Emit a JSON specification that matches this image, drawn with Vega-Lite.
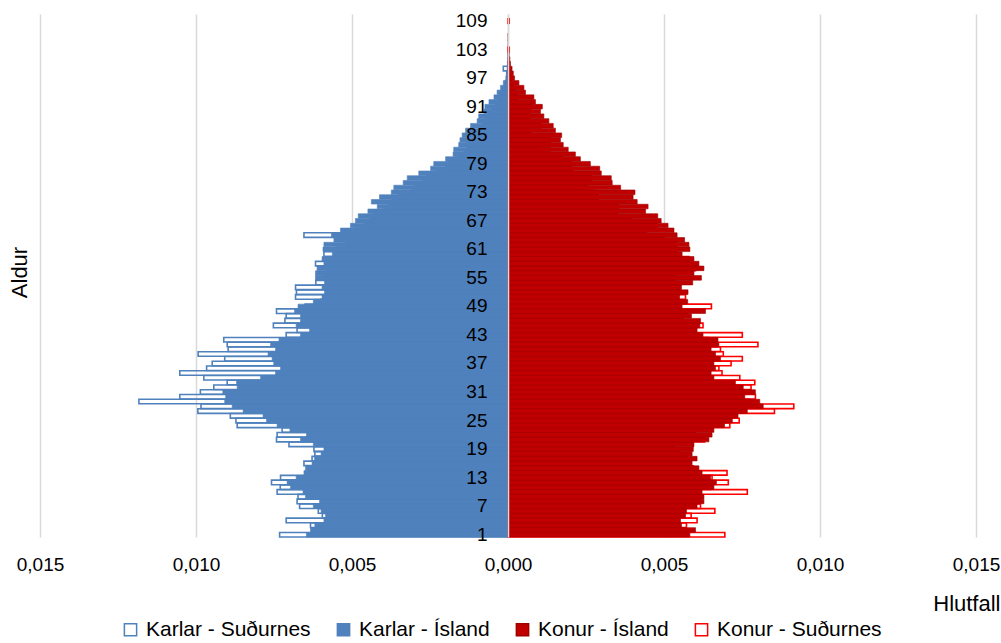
{
  "$schema": "https://vega.github.io/schema/vega-lite/v6.json",
  "width": 936,
  "height": 523,
  "autosize": {"type": "none"},
  "padding": {"left": 40, "top": 14, "right": 25, "bottom": 106},
  "background": "white",
  "config": {"font": "Liberation Sans", "view": {"stroke": null}},
  "data": {"values": [
    {"age":1,"mi":-0.00646,"ms":-0.00732,"fi":0.00583,"fs":0.00695},
    {"age":2,"mi":-0.00633,"ms":-0.0061,"fi":0.00601,"fs":0.00553},
    {"age":3,"mi":-0.00619,"ms":-0.00633,"fi":0.00556,"fs":0.00572},
    {"age":4,"mi":-0.0059,"ms":-0.00711,"fi":0.00553,"fs":0.00606},
    {"age":5,"mi":-0.00585,"ms":-0.00595,"fi":0.00569,"fs":0.00587},
    {"age":6,"mi":-0.00599,"ms":-0.00608,"fi":0.00572,"fs":0.00663},
    {"age":7,"mi":-0.00624,"ms":-0.00668,"fi":0.00606,"fs":0.00617},
    {"age":8,"mi":-0.00604,"ms":-0.00676,"fi":0.00628,"fs":0.00617},
    {"age":9,"mi":-0.00649,"ms":-0.00673,"fi":0.00628,"fs":0.00598},
    {"age":10,"mi":-0.00657,"ms":-0.0074,"fi":0.00622,"fs":0.00767},
    {"age":11,"mi":-0.00697,"ms":-0.0073,"fi":0.0066,"fs":0.00649},
    {"age":12,"mi":-0.00708,"ms":-0.00758,"fi":0.00668,"fs":0.00706},
    {"age":13,"mi":-0.00679,"ms":-0.00729,"fi":0.00649,"fs":0.00654},
    {"age":14,"mi":-0.00654,"ms":-0.0064,"fi":0.00622,"fs":0.00702},
    {"age":15,"mi":-0.00649,"ms":-0.0063,"fi":0.00612,"fs":0.00594},
    {"age":16,"mi":-0.00628,"ms":-0.00654,"fi":0.0059,"fs":0.00587},
    {"age":17,"mi":-0.0062,"ms":-0.00628,"fi":0.00606,"fs":0.00574},
    {"age":18,"mi":-0.00599,"ms":-0.00619,"fi":0.0059,"fs":0.0055},
    {"age":19,"mi":-0.0059,"ms":-0.00622,"fi":0.00594,"fs":0.00532},
    {"age":20,"mi":-0.00624,"ms":-0.00702,"fi":0.00596,"fs":0.00526},
    {"age":21,"mi":-0.00665,"ms":-0.00742,"fi":0.00644,"fs":0.0063},
    {"age":22,"mi":-0.00646,"ms":-0.0074,"fi":0.00654,"fs":0.00601},
    {"age":23,"mi":-0.00699,"ms":-0.00724,"fi":0.0066,"fs":0.00587},
    {"age":24,"mi":-0.0074,"ms":-0.00868,"fi":0.00694,"fs":0.00711},
    {"age":25,"mi":-0.00774,"ms":-0.00872,"fi":0.00719,"fs":0.00741},
    {"age":26,"mi":-0.00785,"ms":-0.0089,"fi":0.00737,"fs":0.00735},
    {"age":27,"mi":-0.00849,"ms":-0.00994,"fi":0.00767,"fs":0.00854},
    {"age":28,"mi":-0.00884,"ms":-0.00984,"fi":0.00818,"fs":0.00916},
    {"age":29,"mi":-0.00908,"ms":-0.01183,"fi":0.00807,"fs":0.00775},
    {"age":30,"mi":-0.00905,"ms":-0.01052,"fi":0.00759,"fs":0.00793},
    {"age":31,"mi":-0.00914,"ms":-0.00986,"fi":0.00793,"fs":0.00692},
    {"age":32,"mi":-0.00868,"ms":-0.00943,"fi":0.00754,"fs":0.00779},
    {"age":33,"mi":-0.0087,"ms":-0.009,"fi":0.00729,"fs":0.00791},
    {"age":34,"mi":-0.00793,"ms":-0.00975,"fi":0.0066,"fs":0.00743},
    {"age":35,"mi":-0.00745,"ms":-0.01052,"fi":0.00651,"fs":0.00686},
    {"age":36,"mi":-0.00729,"ms":-0.00966,"fi":0.00665,"fs":0.00676},
    {"age":37,"mi":-0.00751,"ms":-0.00948,"fi":0.0066,"fs":0.00715},
    {"age":38,"mi":-0.00756,"ms":-0.00908,"fi":0.00681,"fs":0.00751},
    {"age":39,"mi":-0.00769,"ms":-0.00993,"fi":0.00665,"fs":0.0069},
    {"age":40,"mi":-0.00745,"ms":-0.00897,"fi":0.00651,"fs":0.00681},
    {"age":41,"mi":-0.00761,"ms":-0.009,"fi":0.00676,"fs":0.00801},
    {"age":42,"mi":-0.00734,"ms":-0.00911,"fi":0.00673,"fs":0.00644},
    {"age":43,"mi":-0.00665,"ms":-0.00711,"fi":0.00625,"fs":0.00751},
    {"age":44,"mi":-0.00636,"ms":-0.00676,"fi":0.00606,"fs":0.006},
    {"age":45,"mi":-0.00679,"ms":-0.00752,"fi":0.00615,"fs":0.00625},
    {"age":46,"mi":-0.00665,"ms":-0.00715,"fi":0.00617,"fs":0.0051},
    {"age":47,"mi":-0.00665,"ms":-0.00711,"fi":0.00588,"fs":0.00561},
    {"age":48,"mi":-0.00684,"ms":-0.00742,"fi":0.00633,"fs":0.00574},
    {"age":49,"mi":-0.00673,"ms":-0.0065,"fi":0.00558,"fs":0.00652},
    {"age":50,"mi":-0.00624,"ms":-0.006,"fi":0.00576,"fs":0.00532},
    {"age":51,"mi":-0.00596,"ms":-0.00681,"fi":0.0055,"fs":0.00569},
    {"age":52,"mi":-0.00588,"ms":-0.00678,"fi":0.00577,"fs":0.0055},
    {"age":53,"mi":-0.00596,"ms":-0.00681,"fi":0.00556,"fs":0.00516},
    {"age":54,"mi":-0.00588,"ms":-0.00616,"fi":0.00592,"fs":0.00532},
    {"age":55,"mi":-0.00617,"ms":-0.0059,"fi":0.0062,"fs":0.00535},
    {"age":56,"mi":-0.00617,"ms":-0.0058,"fi":0.00596,"fs":0.00529},
    {"age":57,"mi":-0.00612,"ms":-0.0057,"fi":0.00628,"fs":0.00601},
    {"age":58,"mi":-0.0059,"ms":-0.00617,"fi":0.00612,"fs":0.00553},
    {"age":59,"mi":-0.00596,"ms":-0.0056,"fi":0.00596,"fs":0.0058},
    {"age":60,"mi":-0.00563,"ms":-0.0059,"fi":0.00558,"fs":0.00492},
    {"age":61,"mi":-0.00593,"ms":-0.0055,"fi":0.00583,"fs":0.00542},
    {"age":62,"mi":-0.0059,"ms":-0.0052,"fi":0.0058,"fs":0.0054},
    {"age":63,"mi":-0.00558,"ms":-0.0052,"fi":0.00566,"fs":0.005},
    {"age":64,"mi":-0.00566,"ms":-0.00654,"fi":0.00542,"fs":0.00444},
    {"age":65,"mi":-0.00537,"ms":-0.0049,"fi":0.00532,"fs":0.00433},
    {"age":66,"mi":-0.00505,"ms":-0.0046,"fi":0.00513,"fs":0.00478},
    {"age":67,"mi":-0.00489,"ms":-0.0044,"fi":0.00491,"fs":0.00396},
    {"age":68,"mi":-0.0048,"ms":-0.0043,"fi":0.0048,"fs":0.0035},
    {"age":69,"mi":-0.00449,"ms":-0.004,"fi":0.00441,"fs":0.0035},
    {"age":70,"mi":-0.00419,"ms":-0.0038,"fi":0.00449,"fs":0.00353},
    {"age":71,"mi":-0.00438,"ms":-0.0037,"fi":0.00414,"fs":0.00286},
    {"age":72,"mi":-0.00412,"ms":-0.0035,"fi":0.00401,"fs":0.00288},
    {"age":73,"mi":-0.00374,"ms":-0.0031,"fi":0.00407,"fs":0.0028},
    {"age":74,"mi":-0.00366,"ms":-0.003,"fi":0.00361,"fs":0.0025},
    {"age":75,"mi":-0.00336,"ms":-0.0027,"fi":0.00334,"fs":0.00256},
    {"age":76,"mi":-0.00323,"ms":-0.0026,"fi":0.00331,"fs":0.00267},
    {"age":77,"mi":-0.00286,"ms":-0.0023,"fi":0.00299,"fs":0.00209},
    {"age":78,"mi":-0.00248,"ms":-0.002,"fi":0.00294,"fs":0.00203},
    {"age":79,"mi":-0.00238,"ms":-0.0019,"fi":0.00264,"fs":0.00203},
    {"age":80,"mi":-0.002,"ms":-0.0016,"fi":0.00232,"fs":0.00172},
    {"age":81,"mi":-0.00176,"ms":-0.0014,"fi":0.00216,"fs":0.00136},
    {"age":82,"mi":-0.00174,"ms":-0.0013,"fi":0.00193,"fs":0.00102},
    {"age":83,"mi":-0.00158,"ms":-0.0013,"fi":0.00177,"fs":0.00136},
    {"age":84,"mi":-0.00154,"ms":-0.0011,"fi":0.00168,"fs":0.00136},
    {"age":85,"mi":-0.00147,"ms":-0.001,"fi":0.00172,"fs":0.00072},
    {"age":86,"mi":-0.00136,"ms":-0.0009,"fi":0.00152,"fs":0.00067},
    {"age":87,"mi":-0.0012,"ms":-0.0008,"fi":0.00145,"fs":0.00106},
    {"age":88,"mi":-0.00099,"ms":-0.0007,"fi":0.00131,"fs":0.00056},
    {"age":89,"mi":-0.00094,"ms":-0.0006,"fi":0.00115,"fs":0.00069},
    {"age":90,"mi":-0.00077,"ms":-0.0005,"fi":0.00104,"fs":0.00067},
    {"age":91,"mi":-0.00074,"ms":-0.0004,"fi":0.0011,"fs":0.00074},
    {"age":92,"mi":-0.00061,"ms":-0.0003,"fi":0.00088,"fs":0.00024},
    {"age":93,"mi":-0.00045,"ms":-0.00025,"fi":0.00083,"fs":0.00029},
    {"age":94,"mi":-0.00035,"ms":-0.0002,"fi":0.00056,"fs":0.0002},
    {"age":95,"mi":-0.00024,"ms":-0.0001,"fi":0.00051,"fs":0.00017},
    {"age":96,"mi":-0.00015,"ms":-0.00008,"fi":0.00035,"fs":0.0001},
    {"age":97,"mi":-0.00007,"ms":-0.00004,"fi":0.00021,"fs":0.00008},
    {"age":98,"mi":-0.00005,"ms":-0.00004,"fi":0.00017,"fs":0.00005},
    {"age":99,"mi":-0.00003,"ms":-0.00015,"fi":0.00013,"fs":0.00004},
    {"age":100,"mi":-0.00002,"ms":0,"fi":0.00008,"fs":0.00004},
    {"age":101,"mi":-0.00001,"ms":0,"fi":0.00006,"fs":0},
    {"age":102,"mi":-0.000005,"ms":0,"fi":0.00004,"fs":0},
    {"age":103,"mi":0,"ms":0,"fi":0.00002,"fs":0.00004},
    {"age":104,"mi":0,"ms":0,"fi":0.000015,"fs":0},
    {"age":105,"mi":0,"ms":0,"fi":0.00001,"fs":0},
    {"age":106,"mi":0,"ms":0,"fi":0.000005,"fs":0},
    {"age":107,"mi":0,"ms":0,"fi":0,"fs":0},
    {"age":108,"mi":0,"ms":0,"fi":0,"fs":0},
    {"age":109,"mi":0,"ms":0,"fi":0,"fs":0.00004},
    {"age":110,"mi":0,"ms":0,"fi":0,"fs":0}
  ]},
  "transform": [
    {"fold": ["ms", "mi", "fi", "fs"], "as": ["grp", "val"]},
    {"filter": "datum.val != 0"}
  ],
  "encoding": {
    "y": {
      "field": "age",
      "type": "ordinal",
      "scale": {
        "domain": [110,109,108,107,106,105,104,103,102,101,100,99,98,97,96,95,94,93,92,91,90,89,88,87,86,85,84,83,82,81,80,79,78,77,76,75,74,73,72,71,70,69,68,67,66,65,64,63,62,61,60,59,58,57,56,55,54,53,52,51,50,49,48,47,46,45,44,43,42,41,40,39,38,37,36,35,34,33,32,31,30,29,28,27,26,25,24,23,22,21,20,19,18,17,16,15,14,13,12,11,10,9,8,7,6,5,4,3,2,1],
        "paddingInner": 0.04,
        "paddingOuter": 0
      },
      "axis": {
        "orient": "left",
        "offset": -468,
        "values": [1,7,13,19,25,31,37,43,49,55,61,67,73,79,85,91,97,103,109],
        "ticks": false,
        "domain": true,
        "domainColor": "#D9D9D9",
        "domainWidth": 1.5,
        "labelPadding": 21,
        "labelFontSize": 19,
        "labelColor": "#000000",
        "labelFont": "Liberation Sans",
        "title": "Aldur",
        "titleFont": "Liberation Sans",
        "titleFontSize": 22,
        "titleFontWeight": "normal",
        "titleColor": "#000000",
        "titleX": -489,
        "titleY": 258,
        "titleAngle": -90,
        "titleAlign": "center",
        "titleBaseline": "middle",
        "zindex": 2
      }
    },
    "x": {
      "field": "val",
      "type": "quantitative",
      "stack": null,
      "scale": {"domain": [-0.015, 0.015], "nice": false, "zero": true},
      "axis": {
        "values": [-0.015, -0.01, -0.005, 0, 0.005, 0.01, 0.015],
        "labelExpr": "replace(format(abs(datum.value), '.3f'), '.', ',')",
        "grid": true,
        "gridColor": "#D9D9D9",
        "gridWidth": 1.5,
        "domain": false,
        "ticks": false,
        "labelFlush": false,
        "labelOverlap": false,
        "labelPadding": 18,
        "labelFontSize": 19,
        "labelColor": "#000000",
        "labelFont": "Liberation Sans",
        "title": "Hlutfall",
        "titleFont": "Liberation Sans",
        "titleFontSize": 22,
        "titleFontWeight": "normal",
        "titleColor": "#000000",
        "titleX": 960,
        "titleY": 66,
        "titleAlign": "right",
        "titleBaseline": "middle",
        "zindex": 0
      }
    },
    "fill": {
      "field": "grp",
      "type": "nominal",
      "scale": {"domain": ["ms", "mi", "fi", "fs"], "range": ["transparent", "#4F81BD", "#C00000", "transparent"]},
      "legend": {
        "orient": "none",
        "legendX": 80,
        "legendY": 605,
        "direction": "horizontal",
        "columns": 4,
        "title": null,
        "symbolType": "square",
        "symbolSize": 150,
        "symbolStrokeWidth": 1.5,
        "labelFontSize": 21,
        "labelFont": "Liberation Sans",
        "labelColor": "#000000",
        "labelLimit": 400,
        "labelOffset": 5,
        "columnPadding": 22,
        "labelExpr": "datum.value == 'ms' ? 'Karlar - Suðurnes' : datum.value == 'mi' ? 'Karlar - Ísland' : datum.value == 'fi' ? 'Konur - Ísland' : 'Konur - Suðurnes'"
      }
    },
    "stroke": {
      "field": "grp",
      "type": "nominal",
      "scale": {"domain": ["ms", "mi", "fi", "fs"], "range": ["#4F81BD", "#4F81BD", "#9E0000", "#FF0000"]},
      "legend": {
        "orient": "none",
        "legendX": 80,
        "legendY": 605,
        "direction": "horizontal",
        "columns": 4,
        "title": null,
        "symbolType": "square",
        "symbolSize": 150,
        "symbolStrokeWidth": 1.5,
        "labelFontSize": 21,
        "labelFont": "Liberation Sans",
        "labelColor": "#000000",
        "labelLimit": 400,
        "labelOffset": 5,
        "columnPadding": 22,
        "labelExpr": "datum.value == 'ms' ? 'Karlar - Suðurnes' : datum.value == 'mi' ? 'Karlar - Ísland' : datum.value == 'fi' ? 'Konur - Ísland' : 'Konur - Suðurnes'"
      }
    }
  },
  "layer": [
    {
      "transform": [{"filter": "datum.grp == 'ms' || datum.grp == 'fs'"}],
      "mark": {"type": "bar", "strokeWidth": 1.6}
    },
    {
      "transform": [{"filter": "datum.grp == 'mi' || datum.grp == 'fi'"}],
      "mark": {"type": "bar", "strokeWidth": 0.6}
    }
  ]
}
